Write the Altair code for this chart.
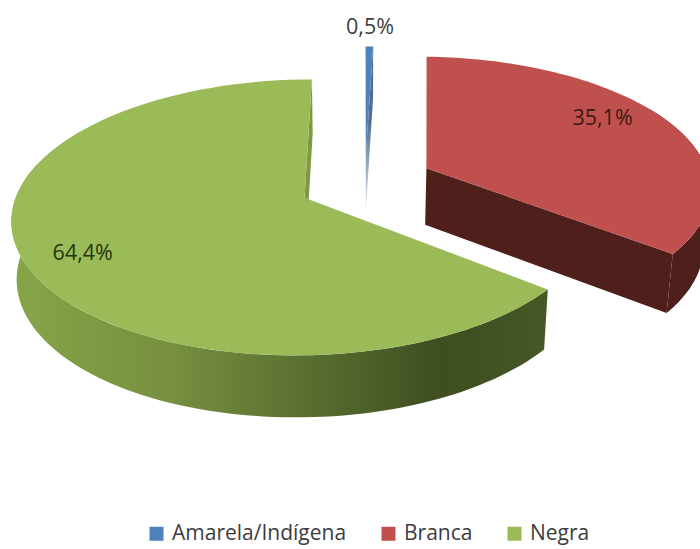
import math
import altair as alt
import pandas as pd

# Chart values
categories = ["Amarela/Indígena", "Branca", "Negra"]
shares = [0.5, 35.1, 64.4]
labels = ["0,5%", "35,1%", "64,4%"]

WIDTH, HEIGHT = 700, 549
colors = ["#4f81bd", "#c0504d", "#9bbb59"]

# Camera and pie geometry of the tilted, exploded 3D pie
VX, VY = 364.0, 185.0      # vanishing centre on the canvas
AX, BY = 285.0, 131.6      # horizontal and vertical radius in pixels
PERSP = 0.14               # depth foreshortening
DEPTH = 57.0               # wall height in pixels
explode = [0.22, 0.235, 0.22]
nudge = [(0.003, -0.015), (0.01, -0.03), (-0.008, 0.0)]
label_polar = [(0.0, 1.2), (-6.0, 0.79), (-3.0, 0.815)]


def project(u, v):
    k = 1.0 / (1.0 - PERSP * v)
    return VX + AX * u * k, VY + BY * v * k, k


def lower(u, v):
    x, y, k = project(u, v)
    # The lower rim leans a little towards the centre
    lean = 0.98 if x > VX else 0.985
    return VX + (x - VX) * lean, y + DEPTH * math.sqrt(k)


def polar(theta):
    r = math.radians(theta)
    return math.sin(r), -math.cos(r)


# Angular span of every slice, clockwise from twelve o'clock
spans = []
start = 0.0
for share in shares:
    end = start + share * 3.6
    spans.append((start, end))
    start = end

centres = []
for (a0, a1), e, (nu, nv) in zip(spans, explode, nudge):
    dx, dy = polar((a0 + a1) / 2)
    centres.append((e * dx + nu, e * dy + nv))


def rim(i, a0, a1, n=90):
    cu, cv = centres[i]
    pts = []
    for j in range(n + 1):
        dx, dy = polar(a0 + (a1 - a0) * j / n)
        pts.append((cu + dx, cv + dy))
    return pts


def table(points, name=""):
    return pd.DataFrame(
        [{"x": x, "y": y, "o": n, "cat": name} for n, (x, y) in enumerate(points)]
    )


def top_face(i):
    a0, a1 = spans[i]
    pts = [centres[i]] + rim(i, a0, a1)
    return [project(u, v)[:2] for u, v in pts]


def outer_wall(i, a0, a1):
    pts = rim(i, a0, a1)
    upper = [project(u, v)[:2] for u, v in pts]
    below = [lower(u, v) for u, v in pts]
    return upper + below[::-1]


def radial_wall(i, theta):
    cu, cv = centres[i]
    dx, dy = polar(theta)
    tip, edge = (cu, cv), (cu + dx, cv + dy)
    return [project(*tip)[:2], project(*edge)[:2], lower(*edge), lower(*tip)]


x_enc = alt.X("x:Q", scale=alt.Scale(domain=[0, WIDTH], nice=False, zero=False), axis=None)
y_enc = alt.Y("y:Q", scale=alt.Scale(domain=[HEIGHT, 0], nice=False, zero=False), axis=None)


def polygon(points, fill):
    return (
        alt.Chart(table(points))
        .mark_line(fill=fill, stroke=None, strokeWidth=0, clip=True, interpolate="linear")
        .encode(x=x_enc, y=y_enc, order="o:Q")
    )


green_shade = alt.Gradient(
    gradient="linear",
    x1=0, x2=1, y1=0, y2=0,
    stops=[
        alt.GradientStop(color="#86a548", offset=0.0),
        alt.GradientStop(color="#778f3f", offset=0.3),
        alt.GradientStop(color="#566b2e", offset=0.58),
        alt.GradientStop(color="#3e4e20", offset=0.8),
        alt.GradientStop(color="#465825", offset=1.0),
    ],
)
blue_shade = alt.Gradient(
    gradient="linear",
    x1=0, x2=0, y1=0, y2=1,
    stops=[
        alt.GradientStop(color="#4f6d92", offset=0.45),
        alt.GradientStop(color="#dfe6ee", offset=1.0),
    ],
)

walls = [
    polygon(radial_wall(2, 360.0), "#7d9a42"),
    polygon(outer_wall(2, spans[2][0], 285.0), green_shade),
    polygon(radial_wall(0, spans[0][1]), blue_shade),
    polygon(radial_wall(1, spans[1][1]), "#4f1f1c"),
    polygon(outer_wall(1, 60.0, spans[1][1]), "#4f1f1c"),
]

faces = pd.concat([table(top_face(i), categories[i]) for i in range(3)])
legend = alt.Legend(
    orient="none",
    legendX=146,
    legendY=523,
    direction="horizontal",
    title=None,
    symbolType="square",
    symbolSize=196,
    symbolStrokeWidth=0,
    symbolOpacity=1,
    labelFont="Open Sans",
    labelFontSize=21,
    labelColor="#3c3c3c",
    labelOffset=5,
    labelLimit=400,
    columnPadding=31,
    padding=0,
)
face_layer = (
    alt.Chart(faces)
    .mark_line(strokeWidth=0, clip=True, interpolate="linear")
    .encode(
        x=x_enc,
        y=y_enc,
        order="o:Q",
        detail="cat:N",
        fill=alt.Fill(
            "cat:N",
            scale=alt.Scale(domain=categories, range=colors),
            legend=legend,
        ),
    )
)

# Percentage labels, anchored in the pie's own polar coordinates
label_rows = []
for i, (shift, radius) in enumerate(label_polar):
    a0, a1 = spans[i]
    dx, dy = polar((a0 + a1) / 2 + shift)
    cu, cv = centres[i]
    px, py, _ = project(cu + radius * dx, cv + radius * dy)
    label_rows.append({"x": px, "y": py, "label": labels[i], "tone": ["#404040", "#3a1a18", "#25350f"][i]})

text_layer = (
    alt.Chart(pd.DataFrame(label_rows))
    .mark_text(font="Open Sans", fontSize=21.5, align="center", baseline="middle")
    .encode(x=x_enc, y=y_enc, text="label:N", color=alt.Color("tone:N", scale=None, legend=None))
)

chart = (
    alt.layer(*walls, face_layer, text_layer)
    .resolve_scale(color="independent")
    .properties(width=WIDTH, height=HEIGHT, padding=0, autosize=alt.AutoSizeParams(type="none"), background="white")
    .configure_view(stroke=None)
)

chart.save("out.html", embed_options={"renderer": "svg", "actions": False})
